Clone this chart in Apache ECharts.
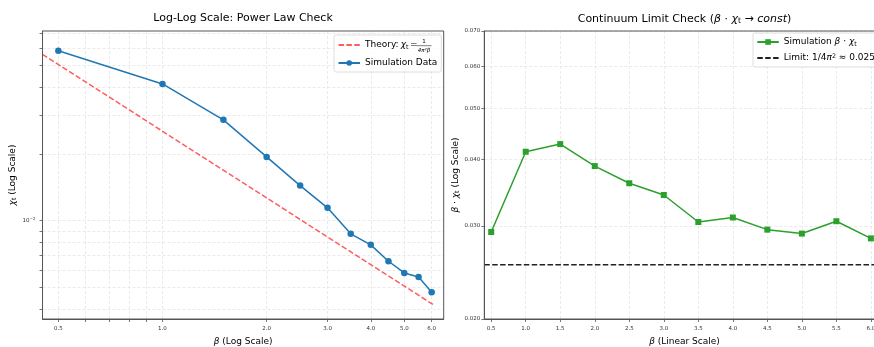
<!DOCTYPE html>
<html>
<head>
<meta charset="utf-8">
<script src="https://cdn.jsdelivr.net/npm/echarts@6/dist/echarts.min.js"></script>
<style>
  html, body { margin: 0; padding: 0; background: #ffffff; }
  #chart { width: 874px; height: 347px; }
</style>
</head>
<body>
<div id="chart"></div>
<script>
// Coupling values beta and the measured topological susceptibility
const betaValues = [0.5, 1.0, 1.5, 2.0, 2.5, 3.0, 3.5, 4.0, 4.5, 5.0, 5.5, 6.0];
const chiT = [0.0584, 0.0414, 0.0285, 0.0194, 0.0144, 0.01143, 0.00872, 0.00778, 0.00656, 0.00581, 0.00557, 0.00475];
const betaChi = [0.0292, 0.0414, 0.0428, 0.0389, 0.0361, 0.0343, 0.0305, 0.0311, 0.0295, 0.0290, 0.0306, 0.0284];

// Theory curve chi_t = 1/(4 pi^2 beta), a straight line on log-log axes
const theoryBeta = [0.45, 6.12];
const theoryChi = [0.05629, 0.00414];
const limitValue = 0.02533;
const limitRange = [0.4, 6.2];

// Tick positions
const logBetaTicks = [0.5, 0.6, 0.7, 0.8, 0.9, 1, 2, 3, 4, 5, 6];
const logBetaLabels = [0.5, 1, 2, 3, 4, 5, 6];
const logChiTicks = [0.004, 0.005, 0.006, 0.007, 0.008, 0.009, 0.01, 0.02, 0.03, 0.04, 0.05, 0.06, 0.07];
const logChiLabels = [0.01];
const linBetaTicks = [0.5, 1.0, 1.5, 2.0, 2.5, 3.0, 3.5, 4.0, 4.5, 5.0, 5.5, 6.0];
const productTicks = [0.02, 0.03, 0.04, 0.05, 0.06, 0.07];

const FONT = 'DejaVu Sans';
const INK = '#000000';
const SPINE = '#555555';

function richSet(size) {
  return {
    n: { fontFamily: FONT, fontSize: size, color: INK },
    i: { fontFamily: FONT, fontSize: size, color: INK, fontStyle: 'italic' },
    s: { fontFamily: FONT, fontSize: size * 0.7, color: INK, padding: [size * 0.45, 0, 0, 0] },
    sup: { fontFamily: FONT, fontSize: size * 0.7, color: INK, padding: [0, 0, size * 0.45, 0] },
    g1: { fontFamily: FONT, fontSize: size, color: INK, width: 2 },
    g2: { fontFamily: FONT, fontSize: size, color: INK, width: 1.5 },
    f: { fontFamily: FONT, fontSize: size, color: INK, width: 19 },
    ex: { fontFamily: FONT, fontSize: 4, color: '#333', padding: [0, 0, 4, 0] },
    b: { fontFamily: FONT, fontSize: 5.5, color: '#333' }
  };
}

const gridLine = { show: true, lineStyle: { color: '#e4e4e4', width: 0.8, type: [3, 2] } };
const tickLabel = { fontFamily: FONT, fontSize: 5.5, color: '#333' };
const axisLine = { show: true, lineStyle: { color: SPINE, width: 1 } };
const tickStyle = { show: true, length: 3, lineStyle: { color: SPINE, width: 0.8 } };

const chart = echarts.init(document.getElementById('chart'), null, { renderer: 'canvas' });

const option = {
  animation: false,
  backgroundColor: '#ffffff',
  title: [
    {
      text: 'Log-Log Scale: Power Law Check',
      left: 243, top: 12.5, textAlign: 'center', padding: 0,
      textStyle: { fontFamily: FONT, fontSize: 11, fontWeight: 'normal', color: INK }
    },
    {
      text: '{n|Continuum Limit Check (}{i|β}{n| · }{i|χ}{s|t}{n| → }{i|const}{n|)}',
      left: 684.5, top: 12.5, textAlign: 'center', padding: 0,
      textStyle: { fontFamily: FONT, fontSize: 11, fontWeight: 'normal', color: INK, rich: richSet(11) }
    }
  ],
  grid: [
    { left: 42.5, top: 31, width: 401.2, height: 288, show: true, z: 5, borderColor: SPINE, borderWidth: 1, backgroundColor: 'transparent', outerBoundsMode: 'none', containLabel: false },
    { left: 484.3, top: 31, width: 400.4, height: 288, show: true, z: 5, borderColor: SPINE, borderWidth: 1, backgroundColor: 'transparent', outerBoundsMode: 'none', containLabel: false }
  ],
  xAxis: [
    {
      type: 'log', logBase: 10, gridIndex: 0, min: 0.45, max: 6.5,
      axisLine: axisLine,
      axisTick: Object.assign({}, tickStyle, { customValues: logBetaTicks }),
      axisLabel: Object.assign({}, tickLabel, { margin: 7, customValues: logBetaLabels, formatter: v => Number(v).toFixed(1) }),
      splitLine: gridLine,
      name: '{i|β}{n| (Log Scale)}', nameLocation: 'middle', nameGap: 13,
      nameTextStyle: { fontFamily: FONT, fontSize: 9, color: INK, rich: richSet(9) }
    },
    {
      type: 'value', gridIndex: 1, min: 0.4, max: 6.2,
      axisLine: axisLine,
      axisTick: Object.assign({}, tickStyle, { customValues: linBetaTicks }),
      axisLabel: Object.assign({}, tickLabel, { margin: 7, customValues: linBetaTicks, formatter: v => Number(v).toFixed(1) }),
      splitLine: gridLine,
      name: '{i|β}{n| (Linear Scale)}', nameLocation: 'middle', nameGap: 13,
      nameTextStyle: { fontFamily: FONT, fontSize: 9, color: INK, rich: richSet(9) }
    }
  ],
  yAxis: [
    {
      type: 'log', logBase: 10, gridIndex: 0, min: 0.003601, max: 0.07173,
      axisLine: axisLine,
      axisTick: Object.assign({}, tickStyle, { customValues: logChiTicks }),
      axisLabel: Object.assign({}, tickLabel, { margin: 7, customValues: logChiLabels, formatter: () => '{b|10}{ex|−2}', rich: richSet(5.5) }),
      splitLine: gridLine,
      name: '{i|χ}{s|t}{n| (Log Scale)}', nameLocation: 'middle', nameGap: 25,
      nameTextStyle: { fontFamily: FONT, fontSize: 9, color: INK, rich: richSet(9) }
    },
    {
      type: 'log', logBase: 10, gridIndex: 1, min: 0.02, max: 0.07,
      axisLine: axisLine,
      axisTick: Object.assign({}, tickStyle, { customValues: productTicks }),
      axisLabel: Object.assign({}, tickLabel, { margin: 4, customValues: productTicks, formatter: v => Number(v).toFixed(3) }),
      splitLine: gridLine,
      name: '{i|β}{n| · }{i|χ}{s|t}{n| (Log Scale)}', nameLocation: 'middle', nameGap: 12,
      nameTextStyle: { fontFamily: FONT, fontSize: 9, color: INK, rich: richSet(9) }
    }
  ],
  legend: [
    {
      orient: 'vertical', left: 334, top: 35, padding: [4, 4, 3, 3.5],
      itemWidth: 21.5, itemHeight: 7, itemGap: 6,
      backgroundColor: 'rgba(255,255,255,0.8)', borderColor: '#d6d6d6', borderWidth: 0.8, borderRadius: 2,
      data: [{ name: 'Theory', itemStyle: { opacity: 0 } }, 'Simulation Data'],
      formatter: name => name === 'Theory' ? '{n|Theory:}{g1|}{i|χ}{s|t}{g2|}{n|=}{f|}' : '{n|Simulation Data}',
      textStyle: { fontFamily: FONT, fontSize: 9, color: INK, lineHeight: 12, rich: richSet(9) }
    },
    {
      orient: 'vertical', left: 753, top: 33, padding: [3, 4, 3, 3.3],
      itemWidth: 21.5, itemHeight: 7, itemGap: 4,
      backgroundColor: 'rgba(255,255,255,0.8)', borderColor: '#d6d6d6', borderWidth: 0.8, borderRadius: 2,
      data: ['SimProduct', { name: 'Limit', itemStyle: { opacity: 0 } }],
      formatter: name => name === 'SimProduct'
        ? '{n|Simulation }{i|β}{n| · }{i|χ}{s|t}'
        : '{n|Limit: 1/4}{i|π}{sup|2}{n| ≈ 0.0253}',
      textStyle: { fontFamily: FONT, fontSize: 9, color: INK, lineHeight: 12, rich: richSet(9) }
    }
  ],
  graphic: [
    // stacked fraction 1/(4π²β) completing the theory legend entry
    { type: 'text', x: 424, y: 41.8, style: { text: '1', fontFamily: FONT, fontSize: 5.5, fill: INK, align: 'center', verticalAlign: 'middle' }, z: 100 },
    { type: 'line', shape: { x1: 416.5, y1: 45.7, x2: 431.5, y2: 45.7 }, style: { stroke: INK, lineWidth: 0.5 }, z: 100 },
    { type: 'text', x: 424, y: 50.3, style: { text: '4π²β', fontFamily: FONT, fontSize: 5.5, fontStyle: 'italic', fill: INK, align: 'center', verticalAlign: 'middle' }, z: 100 }
  ],
  series: [
    {
      name: 'Theory', type: 'line', xAxisIndex: 0, yAxisIndex: 0,
      data: theoryBeta.map((b, k) => [b, theoryChi[k]]),
      symbol: 'none', z: 2,
      lineStyle: { color: 'rgba(255,30,30,0.72)', width: 1.5, type: [5.5, 2.4] },
      itemStyle: { color: 'rgba(255,30,30,0.72)' }
    },
    {
      name: 'Simulation Data', type: 'line', xAxisIndex: 0, yAxisIndex: 0,
      data: betaValues.map((b, k) => [b, chiT[k]]),
      symbol: 'circle', symbolSize: 6.5, z: 3,
      lineStyle: { color: '#1f77b4', width: 1.5 },
      itemStyle: { color: '#1f77b4' }
    },
    {
      name: 'SimProduct', type: 'line', xAxisIndex: 1, yAxisIndex: 1,
      data: betaValues.map((b, k) => [b, betaChi[k]]),
      symbol: 'rect', symbolSize: 6, z: 3,
      lineStyle: { color: '#2ca02c', width: 1.5 },
      itemStyle: { color: '#2ca02c' }
    },
    {
      name: 'Limit', type: 'line', xAxisIndex: 1, yAxisIndex: 1,
      data: limitRange.map(b => [b, limitValue]),
      symbol: 'none', z: 2,
      lineStyle: { color: '#222222', width: 1.5, type: [5.5, 2.4] },
      itemStyle: { color: '#222222' }
    }
  ]
};

chart.setOption(option);
</script>
</body>
</html>
